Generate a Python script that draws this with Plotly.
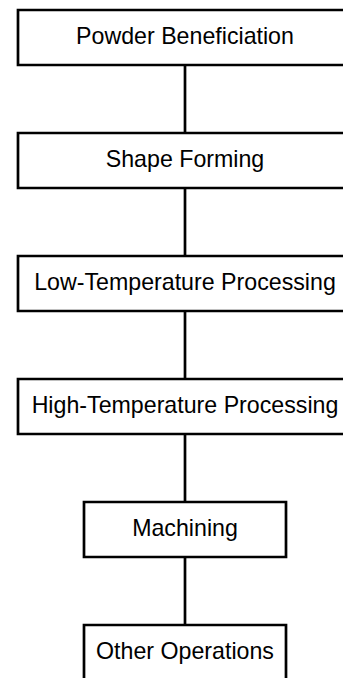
import plotly.graph_objects as go

# Flowchart content
steps = [
    "Powder Beneficiation",
    "Shape Forming",
    "Low-Temperature Processing",
    "High-Temperature Processing",
    "Machining",
    "Other Operations",
]
order = [0, 1, 2, 3, 4, 5]          # vertical order of the steps
box_kind = ["wide", "wide", "wide", "wide", "narrow", "narrow"]

# layout constants (pixel-like data coordinates)
W, H = 343, 678
CX = 185
HALF = {"wide": 167, "narrow": 101}
TOP0, STEP, BOX_H = 10, 123, 55
TEXT_DY = 1.0
LW = 2.7
FONT = dict(family="Arial, Liberation Sans, sans-serif", size=23.2, color="#000000")

fig = go.Figure()
shapes = []
tops = [TOP0 + i * STEP for i in order]

for i, (lab, kind, top) in enumerate(zip(steps, box_kind, tops)):
    hw = HALF[kind]
    shapes.append(dict(type="rect", xref="x", yref="y",
                       x0=CX - hw, x1=CX + hw, y0=top, y1=top + BOX_H,
                       line=dict(color="#000000", width=LW), fillcolor="rgba(0,0,0,0)"))
    if i < len(steps) - 1:
        shapes.append(dict(type="line", xref="x", yref="y",
                           x0=CX, x1=CX, y0=top + BOX_H, y1=tops[i + 1],
                           line=dict(color="#000000", width=LW)))

fig.add_trace(go.Scatter(
    x=[CX] * len(steps),
    y=[t + BOX_H / 2 + TEXT_DY for t in tops],
    text=steps,
    mode="text",
    textposition="middle center",
    textfont=FONT,
    hoverinfo="skip",
    showlegend=False,
    cliponaxis=False,
))

fig.update_layout(
    width=W, height=H,
    margin=dict(l=0, r=0, t=0, b=0),
    paper_bgcolor="#ffffff", plot_bgcolor="#ffffff",
    shapes=shapes,
    xaxis=dict(range=[0, W], visible=False, fixedrange=True),
    yaxis=dict(range=[H, 0], visible=False, fixedrange=True),
    showlegend=False,
)

fig.write_html(
    "out.html",
    config={"displayModeBar": False},
    post_script="document.body.style.margin='0';document.body.style.overflow='hidden';",
)
